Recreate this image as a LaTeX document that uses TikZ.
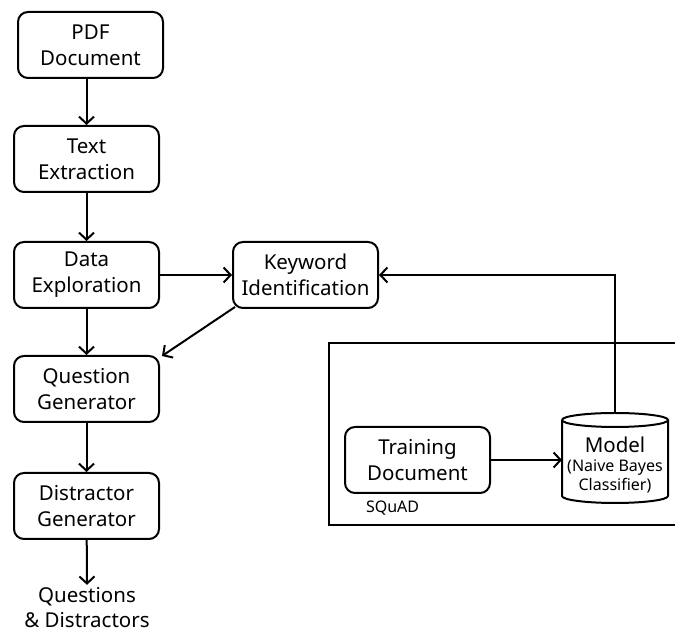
\documentclass[tikz,border=0pt]{standalone}
\usepackage{fontspec}
\setmainfont{Noto Sans}
\usetikzlibrary{arrows.meta,calc}
\begin{document}
\begin{tikzpicture}[x=1pt,y=1pt,
  line width=2pt,
  proc/.style={draw, rounded corners=10pt, minimum width=145pt, minimum height=66pt,
    align=center, inner sep=0pt, font=\fontsize{20.5}{26}\selectfont},
  plain/.style={align=center, inner sep=0pt, font=\fontsize{20.5}{25}\selectfont},
  flow/.style={-{Straight Barb[length=7pt,width=15pt]}}]
\useasboundingbox (0,0) rectangle (675,636);

% main pipeline
\node[proc] (pdf) at (90.5,591) {PDF\\Document};
\node[proc] (text) at (86.5,477) {Text\\Extraction};
\node[proc] (data) at (86.5,361) {Data\\Exploration};
\node[proc] (keyword) at (305.5,361) {Keyword\\Identification};
\node[proc] (question) at (86.5,247) {Question\\Generator};
\node[proc] (distractor) at (86.5,130) {Distractor\\Generator};
\node[plain] (out) at (87,28) {Questions\\\& Distractors};

\draw[flow] (pdf.south -| text) -- (text.north);
\draw[flow] (text) -- (data);
\draw[flow] (data) -- (question);
\draw[flow] (question) -- (distractor);
\draw[flow] (distractor) -- ($(out.north)+(0,2)$);
\draw[flow] (data) -- (keyword);
\draw[flow] ($(keyword.south west)+(3,2)$) -- ($(question.north east)+(2,-1)$);

% training frame (open to the right)
\draw (677,293) -- (329,293) -- (329,111) -- (677,111);
\node[proc] (train) at (417.5,176) {Training\\Document};
\node[anchor=west, inner sep=0pt, font=\fontsize{16}{18}\selectfont] (squad) at (365,128) {SQuAD};

% model cylinder
\node[minimum width=106pt, minimum height=90pt, inner sep=0pt] (model) at (615,178) {};
\draw (562,216) arc[start angle=180, end angle=-180, x radius=53, y radius=7];
\draw (562,216) -- (562,140) arc[start angle=180, end angle=360, x radius=53, y radius=7] -- (668,216);
\node[plain] at (615,191) {Model};
\node[align=center, inner sep=0pt, font=\fontsize{16}{19}\selectfont] at (615,159.5) {(Naive Bayes\\Classifier)};

\draw[flow] (train) -- (562,176);
\draw[flow] (model.north) |- (keyword.east);
\end{tikzpicture}
\end{document}
